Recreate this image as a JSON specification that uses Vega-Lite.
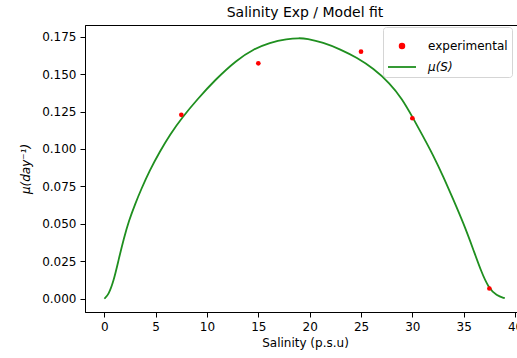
{
  "$schema": "https://vega.github.io/schema/vega-lite/v6.json",
  "width": 432,
  "height": 287,
  "autosize": {"type": "none"},
  "padding": {"left": 85, "top": 25, "right": 0, "bottom": 46},
  "background": "white",
  "config": {
    "font": "DejaVu Sans",
    "view": {"stroke": "black", "strokeWidth": 1},
    "axis": {"grid": false, "domainColor": "black", "tickColor": "black", "labelColor": "black", "titleColor": "black", "labelFont": "DejaVu Sans", "titleFont": "DejaVu Sans", "labelFontSize": 12, "titleFontSize": 12, "titleFontWeight": "normal", "tickSize": 5, "labelPadding": 4}
  },
  "title": {"text": "Salinity Exp / Model fit", "fontSize": 14, "fontWeight": "normal", "font": "DejaVu Sans", "color": "black", "anchor": "middle", "offset": 5, "dx": 4},
  "data": {
    "values": [
      {"series": "experimental", "S": 7.5, "mu": 0.1228},
      {"series": "experimental", "S": 15.0, "mu": 0.1572},
      {"series": "experimental", "S": 25.0, "mu": 0.1650},
      {"series": "experimental", "S": 30.0, "mu": 0.1205},
      {"series": "experimental", "S": 37.5, "mu": 0.0068},
      {"series": "μ(S)", "S": 0.0, "mu": 0.0},
      {"series": "μ(S)", "S": 0.4, "mu": 0.0025},
      {"series": "μ(S)", "S": 0.9, "mu": 0.0115},
      {"series": "μ(S)", "S": 1.4, "mu": 0.0262},
      {"series": "μ(S)", "S": 1.9, "mu": 0.0402},
      {"series": "μ(S)", "S": 2.4, "mu": 0.0522},
      {"series": "μ(S)", "S": 3.0, "mu": 0.0632},
      {"series": "μ(S)", "S": 3.6, "mu": 0.0732},
      {"series": "μ(S)", "S": 4.4, "mu": 0.0855},
      {"series": "μ(S)", "S": 5.4, "mu": 0.0982},
      {"series": "μ(S)", "S": 6.4, "mu": 0.1097},
      {"series": "μ(S)", "S": 7.6, "mu": 0.1212},
      {"series": "μ(S)", "S": 9.0, "mu": 0.1327},
      {"series": "μ(S)", "S": 10.8, "mu": 0.1463},
      {"series": "μ(S)", "S": 12.9, "mu": 0.1595},
      {"series": "μ(S)", "S": 14.5, "mu": 0.1665},
      {"series": "μ(S)", "S": 16.1, "mu": 0.1710},
      {"series": "μ(S)", "S": 17.8, "mu": 0.1735},
      {"series": "μ(S)", "S": 19.0, "mu": 0.1741},
      {"series": "μ(S)", "S": 19.7, "mu": 0.1737},
      {"series": "μ(S)", "S": 21.3, "mu": 0.1712},
      {"series": "μ(S)", "S": 23.0, "mu": 0.1665},
      {"series": "μ(S)", "S": 24.6, "mu": 0.1610},
      {"series": "μ(S)", "S": 26.2, "mu": 0.1538},
      {"series": "μ(S)", "S": 27.8, "mu": 0.1440},
      {"series": "μ(S)", "S": 29.0, "mu": 0.1335},
      {"series": "μ(S)", "S": 30.0, "mu": 0.1215},
      {"series": "μ(S)", "S": 31.0, "mu": 0.1090},
      {"series": "μ(S)", "S": 32.0, "mu": 0.0962},
      {"series": "μ(S)", "S": 33.0, "mu": 0.0818},
      {"series": "μ(S)", "S": 34.0, "mu": 0.0660},
      {"series": "μ(S)", "S": 35.0, "mu": 0.0500},
      {"series": "μ(S)", "S": 35.9, "mu": 0.0335},
      {"series": "μ(S)", "S": 36.7, "mu": 0.0182},
      {"series": "μ(S)", "S": 37.4, "mu": 0.0075},
      {"series": "μ(S)", "S": 38.2, "mu": 0.0020},
      {"series": "μ(S)", "S": 39.0, "mu": 0.0003}
    ]
  },
  "encoding": {
    "x": {"field": "S", "type": "quantitative", "scale": {"domain": [-1.88, 40.19], "nice": false, "zero": false},
      "axis": {"values": [0, 5, 10, 15, 20, 25, 30, 35, 40], "title": "Salinity (p.s.u)", "labelFlush": false, "titlePadding": 5, "titleX": 220}},
    "y": {"field": "mu", "type": "quantitative", "scale": {"domain": [-0.0089, 0.1828], "nice": false, "zero": false},
      "axis": {"values": [0, 0.025, 0.05, 0.075, 0.1, 0.125, 0.15, 0.175], "format": ".3f", "title": "μ(day⁻¹)", "titleFontStyle": "italic", "titlePadding": 9, "labelFlush": false}},
    "color": {"field": "series", "type": "nominal", "scale": {"domain": ["experimental", "μ(S)"], "range": ["#ff0000", "#1f8f1f"]},
      "legend": {"title": null, "orient": "none", "legendX": 298, "legendY": 2, "padding": 4, "symbolSize": 100, "symbolOffset": 0, "labelOffset": 11, "rowPadding": 0, "labelFontSize": 12, "labelColor": "black", "labelFont": "DejaVu Sans", "strokeColor": "#d5d5d5", "fillColor": "rgba(255,255,255,0.85)", "cornerRadius": 3,
        "encode": {
          "symbols": {"update": {
            "shape": {"signal": "datum.value === 'experimental' ? 'circle' : 'stroke'"},
            "size": {"signal": "datum.value === 'experimental' ? 22 : 784"},
            "fill": {"signal": "datum.value === 'experimental' ? '#ff0000' : 'transparent'"},
            "stroke": {"signal": "datum.value === 'experimental' ? 'transparent' : '#1f8f1f'"},
            "strokeWidth": {"value": 1.8},
            "opacity": {"value": 1}
          }},
          "labels": {"update": {"fontStyle": {"signal": "datum.value === 'experimental' ? 'normal' : 'italic'"}}}
        }}}
  },
  "layer": [
    {"transform": [{"filter": "datum.series !== 'experimental'"}], "mark": {"type": "line", "strokeWidth": 1.8, "interpolate": "basis"}},
    {"transform": [{"filter": "datum.series === 'experimental'"}], "mark": {"type": "circle", "size": 22, "opacity": 1}}
  ]
}
